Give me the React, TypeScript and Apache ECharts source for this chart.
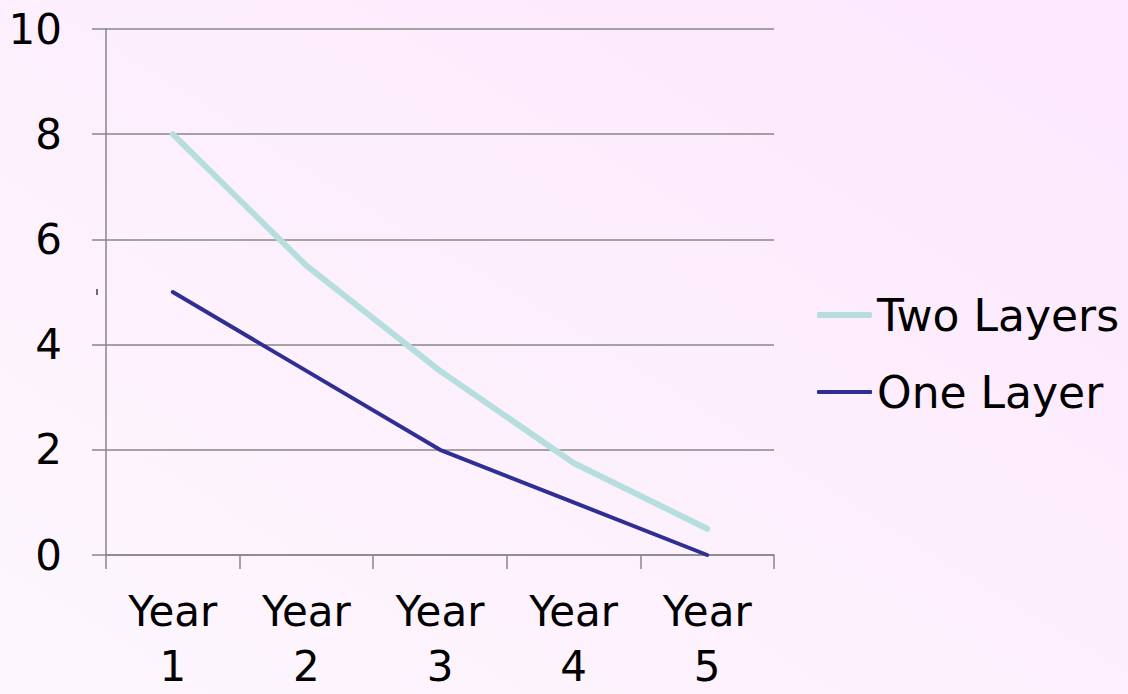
import React, { useEffect, useRef } from "react";
import * as echarts from "echarts";

const categories = ["Year\n1", "Year\n2", "Year\n3", "Year\n4", "Year\n5"];
const twoLayers = [8, 5.5, 3.5, 1.75, 0.5];
const oneLayer = [5, 3.5, 2, 1, 0];
const yTicks = { min: 0, max: 10, interval: 2 };

const FONT = "DejaVu Sans";
const AXIS_GRAY = "#878787";
const TEAL = "#b6dedf";
const NAVY = "#2e2e94";

export default function App() {
  const ref = useRef<HTMLDivElement>(null);

  useEffect(() => {
    if (!ref.current) return;
    const chart = echarts.init(ref.current, undefined, { renderer: "svg" });
    const legendText = { fontFamily: FONT, fontSize: 44, color: "#000" };
    chart.setOption({
      animation: false,
      backgroundColor: {
        type: "linear",
        x: 0,
        y: 1,
        x2: 1,
        y2: 0,
        colorStops: [
          { offset: 0, color: "#fdf7fd" },
          { offset: 1, color: "#fde7fd" },
        ],
      },
      textStyle: { fontFamily: FONT },
      grid: { left: 106, right: 354, top: 29, bottom: 139, outerBoundsMode: "none" },
      legend: [
        {
          data: [{ name: "Two Layers", icon: "roundRect" }],
          left: 812,
          top: 288,
          itemWidth: 55,
          itemHeight: 6,
          itemGap: 0,
          textStyle: legendText,
        },
        {
          data: [{ name: "One Layer", icon: "roundRect" }],
          left: 812,
          top: 365,
          itemWidth: 55,
          itemHeight: 4,
          itemGap: 0,
          textStyle: legendText,
        },
      ],
      xAxis: {
        type: "category",
        data: categories,
        boundaryGap: true,
        axisLine: { lineStyle: { color: AXIS_GRAY, width: 1.5 } },
        axisTick: { show: true, length: 14, lineStyle: { color: AXIS_GRAY, width: 1.5 } },
        axisLabel: {
          color: "#000",
          fontFamily: FONT,
          fontSize: 42,
          lineHeight: 55,
          margin: 29,
        },
      },
      yAxis: {
        type: "value",
        min: yTicks.min,
        max: yTicks.max,
        interval: yTicks.interval,
        axisLine: { show: true, lineStyle: { color: AXIS_GRAY, width: 1.5 } },
        axisTick: { show: true, length: 14, lineStyle: { color: AXIS_GRAY, width: 1.5 } },
        splitLine: { show: true, lineStyle: { color: AXIS_GRAY, width: 1.5 } },
        axisLabel: { color: "#000", fontFamily: FONT, fontSize: 42, margin: 44 },
      },
      series: [
        {
          name: "Two Layers",
          type: "line",
          data: twoLayers,
          symbol: "none",
          color: TEAL,
          lineStyle: { color: TEAL, width: 6, cap: "round", join: "round" },
        },
        {
          name: "One Layer",
          type: "line",
          data: oneLayer,
          symbol: "none",
          color: NAVY,
          lineStyle: { color: NAVY, width: 4, cap: "round", join: "round" },
        },
      ],
      graphic: [
        {
          type: "rect",
          shape: { x: 96, y: 289, width: 2, height: 6 },
          style: { fill: "#6e6e6e" },
        },
      ],
    });
    return () => chart.dispose();
  }, []);

  return <div ref={ref} style={{ width: 1128, height: 694, position: "absolute", left: 0, top: 0 }} />;
}
